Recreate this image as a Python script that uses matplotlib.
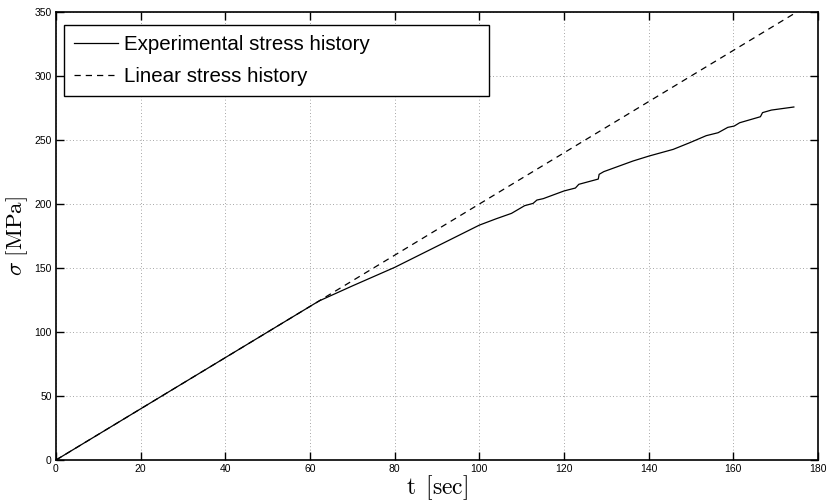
import matplotlib
matplotlib.use('Agg')
import matplotlib.pyplot as plt
import numpy as np

# measured stress history (t in sec, sigma in MPa)
t_exp = [0, 20, 40, 50.5, 61, 62.3, 70, 80, 90, 100, 104, 107.6, 110.7, 112.7,
         113.6, 115.1, 120.0, 122.7, 123.5, 128.1, 128.3, 129.4, 136.3, 140.1,
         145.8, 149.7, 153.6, 156.4, 158.7, 160.2, 161.5, 166.4, 166.9, 169.0,
         174.3]
s_exp = [0, 40, 80, 101, 122, 124.5, 136, 150.5, 167, 183.5, 188.5, 192.7,
         198.7, 200.5, 203.1, 204.2, 210.2, 212.5, 215.4, 219.5, 223.2, 225.3,
         233.6, 237.5, 242.7, 247.9, 253.4, 255.7, 259.9, 260.9, 263.5, 268.2,
         271.4, 273.4, 275.8]

# linear reference history
t_lin = [0, 175]
s_lin = [0, 350]

xticks = [0, 20, 40, 60, 80, 100, 120, 140, 160, 180]
yticks = [0, 50, 100, 150, 200, 250, 300, 350]

plt.rcParams['mathtext.fontset'] = 'cm'
plt.rcParams['font.family'] = ['Liberation Sans', 'DejaVu Sans']

fig = plt.figure(figsize=(8.27, 5.01), dpi=100)
ax = fig.add_axes([0.0677, 0.0818, 0.9214, 0.8942])

ax.plot(t_exp, s_exp, color='black', lw=0.9, label='Experimental stress history')
ax.plot(t_lin, s_lin, color='black', lw=0.9, ls=(0, (5, 4)), label='Linear stress history')

ax.set_xlim(0, 180)
ax.set_ylim(0, 350)
ax.set_xticks(xticks)
ax.set_yticks(yticks)
ax.tick_params(direction='in', length=6, width=1, labelsize=7.5, pad=3,
               top=True, right=True)
for sp in ax.spines.values():
    sp.set_linewidth(1.2)
ax.grid(True, color='#888888', ls=(0, (1, 3)), lw=0.6)

ax.set_xlabel(r'$\mathrm{t}\ \,[\mathrm{sec}]$', fontsize=17, labelpad=-1)
ax.set_ylabel(r'$\sigma\ [\mathrm{MPa}]$', fontsize=16.5, labelpad=3)

# legend box stretched to a fixed width
leg = ax.legend(loc='upper left', bbox_to_anchor=(0.0105, 0.971, 0.558, 0.0),
                mode='expand', fontsize=14.8,
                frameon=True, fancybox=False, framealpha=1, edgecolor='black',
                handlelength=2.15, handletextpad=0.25, borderpad=0.5,
                labelspacing=0.62, borderaxespad=0)
leg.get_frame().set_linewidth(1.0)

fig.savefig('out.png', dpi=100)
